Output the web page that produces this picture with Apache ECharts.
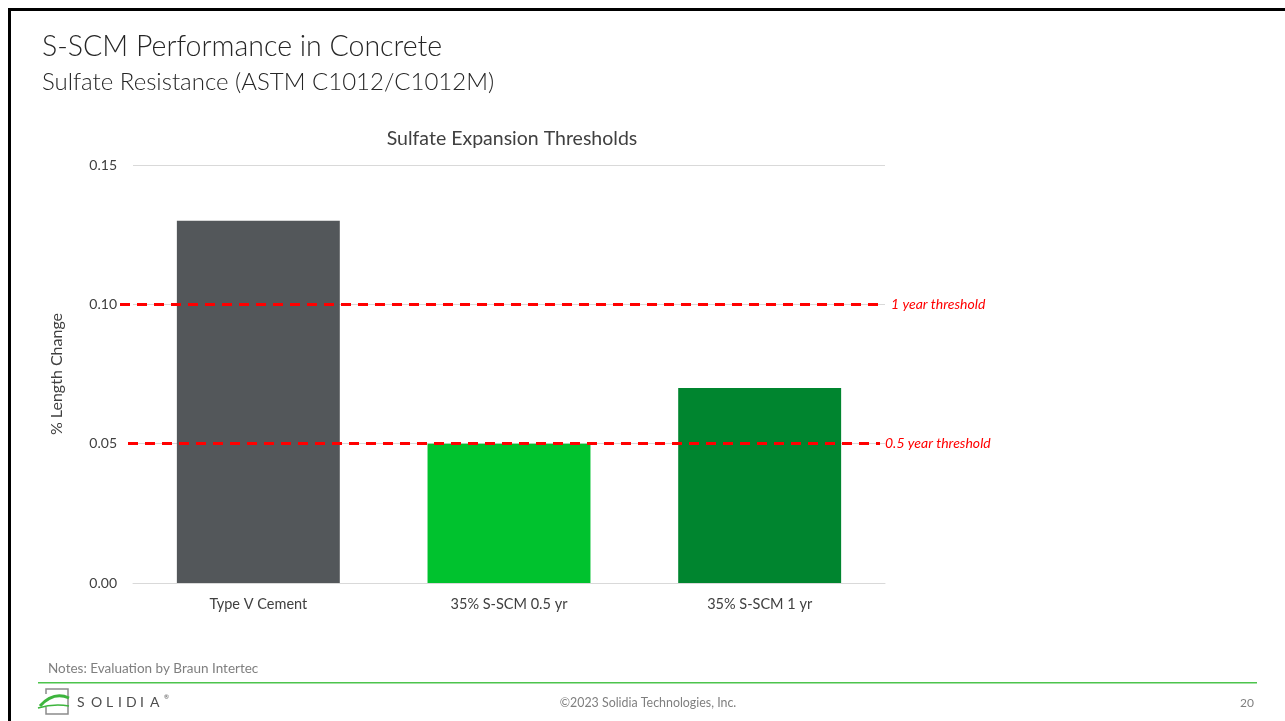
<!DOCTYPE html>
<html>
<head>
<meta charset="utf-8">
<script src="https://cdn.jsdelivr.net/npm/echarts@6/dist/echarts.min.js"></script>
<style>
  html, body { margin: 0; padding: 0; background: #fff; }
  #chart { width: 1285px; height: 721px; }
</style>
</head>
<body>
<div id="chart"></div>
<script>
// Sulfate expansion results (% length change)
const categories = ['Type V Cement', '35% S-SCM 0.5 yr', '35% S-SCM 1 yr'];
const expansion = [0.13, 0.05, 0.07];
const barColors = ['#53575A', '#00C22E', '#00852F'];

// ASTM C1012 expansion limits
const thresholdValues = [0.10, 0.05];
const thresholdNames = ['1 year threshold', '0.5 year threshold'];

const yTicks = { min: 0, max: 0.15, step: 0.05 };

const chart = echarts.init(document.getElementById('chart'), null, { renderer: 'canvas' });

const font = 'Lato, "Open Sans", "Noto Sans", sans-serif';

// Horizontal reach of each threshold line, in pixels, and label gap
const thresholdSpan = [[120, 880], [128, 880]];
const thresholdGap = [11, 5];

// Wordmark letters for the footer logo
const logoLetters = ['S', 'O', 'L', 'I', 'D', 'I', 'A'];
const logoX = [77, 91, 106, 118, 126, 140, 150];

const option = {
  backgroundColor: '#ffffff',
  animation: false,
  textStyle: { fontFamily: font },
  title: {
    text: 'Sulfate Expansion Thresholds',
    left: 507,
    textAlign: 'center',
    top: 124,
    textStyle: { fontSize: 19.5, fontWeight: 'normal', color: '#404040', fontFamily: font }
  },
  grid: { left: 133, right: 400, top: 165, bottom: 138 },
  xAxis: {
    type: 'category',
    data: categories,
    axisLine: { lineStyle: { color: '#D9D9D9', width: 1 } },
    axisTick: { show: false },
    axisLabel: { color: '#404040', fontSize: 14.5, margin: 14, fontFamily: font }
  },
  yAxis: {
    type: 'value',
    min: yTicks.min,
    max: yTicks.max,
    interval: yTicks.step,
    name: '% Length Change',
    nameLocation: 'middle',
    nameGap: 68,
    nameTextStyle: { color: '#404040', fontSize: 16, fontFamily: font },
    axisLine: { show: false },
    axisTick: { show: false },
    splitLine: { lineStyle: { color: '#D9D9D9', width: 1 } },
    axisLabel: {
      color: '#404040', fontSize: 14, margin: 16, fontFamily: font,
      formatter: v => v.toFixed(2)
    }
  },
  series: [{
    type: 'bar',
    barWidth: '65%',
    data: expansion.map((v, i) => ({ value: v, itemStyle: { color: barColors[i] } })),
    markLine: {
      silent: true,
      symbol: ['none', 'none'],
      lineStyle: { color: '#FF0000', width: 3, type: [10, 7] },
      label: {
        position: 'end',
        color: '#FF0000',
        fontStyle: 'italic',
        fontSize: 14,
        fontFamily: font,
        formatter: p => p.name
      },
      data: thresholdValues.map((v, i) => [
        { x: thresholdSpan[i][0], yAxis: v, name: thresholdNames[i], label: { distance: thresholdGap[i] } },
        { x: thresholdSpan[i][1], yAxis: v }
      ])
    }
  }],
  graphic: [
    // slide frame
    { type: 'rect', shape: { x: 8, y: 8, width: 3, height: 713 }, style: { fill: '#000' }, silent: true },
    { type: 'rect', shape: { x: 8, y: 8, width: 1277, height: 3 }, style: { fill: '#000' }, silent: true },
    // slide heading
    { type: 'text', x: 42, y: 47, style: { text: 'S-SCM Performance in Concrete', fontSize: 28.5, fontFamily: font, fontWeight: 300, fill: '#262626', verticalAlign: 'middle' } },
    { type: 'text', x: 42, y: 82, style: { text: 'Sulfate Resistance (ASTM C1012/C1012M)', fontSize: 24, fontFamily: font, fontWeight: 300, fill: '#262626', verticalAlign: 'middle' } },
    // notes and footer
    { type: 'text', x: 48, y: 669, style: { text: 'Notes: Evaluation by Braun Intertec', fontSize: 13.5, fontFamily: font, fill: '#7F7F7F', verticalAlign: 'middle' } },
    { type: 'rect', shape: { x: 38, y: 682, width: 1219, height: 1.5 }, style: { fill: '#4CC44C' }, silent: true },
    { type: 'text', x: 648, y: 703, style: { text: '\u00A92023 Solidia Technologies, Inc.', fontSize: 12.4, fontFamily: font, fill: '#7F7F7F', align: 'center', verticalAlign: 'middle' } },
    { type: 'text', x: 1254, y: 703, style: { text: '20', fontSize: 12, fontFamily: font, fill: '#7F7F7F', align: 'right', verticalAlign: 'middle' } },
    // logo mark
    { type: 'polyline', shape: { points: [[46, 694], [46, 689], [68, 689], [68, 714], [46, 714], [46, 707]] }, style: { stroke: '#8C8C8C', lineWidth: 1.5, fill: null }, silent: true },
    { type: 'bezierCurve', shape: { x1: 40, y1: 706, x2: 69, y2: 698, cpx1: 50, cpy1: 695, cpx2: 60, cpy2: 694 }, style: { stroke: '#3DB53D', lineWidth: 3, fill: null }, silent: true },
    { type: 'bezierCurve', shape: { x1: 38, y1: 708, x2: 69, y2: 706, cpx1: 48, cpy1: 705, cpx2: 58, cpy2: 704 }, style: { stroke: '#3DB53D', lineWidth: 1.5, fill: null }, silent: true },
    ...logoLetters.map((ch, i) => ({
      type: 'text', x: logoX[i], y: 702,
      style: { text: ch, fontSize: 14, fontFamily: font, fill: '#4D4D4D', verticalAlign: 'middle' }
    })),
    { type: 'text', x: 164, y: 697, style: { text: '\u00AE', fontSize: 6, fontFamily: font, fill: '#4D4D4D', verticalAlign: 'middle' } }
  ]
};

chart.setOption(option);
</script>
</body>
</html>
